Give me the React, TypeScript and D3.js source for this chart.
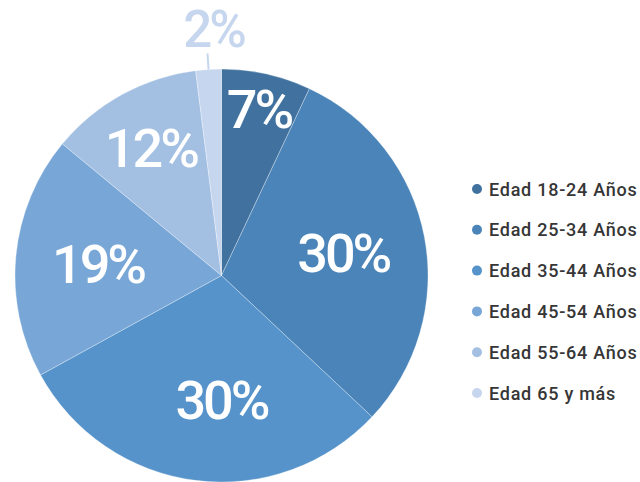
import React, { useEffect, useRef } from "react";
import * as d3 from "d3";

const categories = [
  "Edad 18-24 Años",
  "Edad 25-34 Años",
  "Edad 35-44 Años",
  "Edad 45-54 Años",
  "Edad 55-64 Años",
  "Edad 65 y más",
];
const values = [7, 30, 30, 19, 12, 2];
const colors = ["#41729f", "#4a84b8", "#5593ca", "#78a7d7", "#a3c0e3", "#c6d6ee"];

export default function App() {
  const ref = useRef<HTMLDivElement>(null);

  useEffect(() => {
    draw();
  }, []);

  const draw = () => {
    const root = d3.select(ref.current);
    root.select("svg").remove();

    const width = 640;
    const height = 482;
    const cx = 221.5;
    const cy = 275.5;
    const radius = 206.5;

    const svg = root
      .append("svg")
      .attr("width", width)
      .attr("height", height)
      .style("display", "block");

    const g = svg.append("g").attr("transform", `translate(${cx}, ${cy})`);

    const data = categories.map((c, i) => ({ name: c, value: values[i], color: colors[i] }));

    const pie = d3
      .pie<any>()
      .sort(null)
      .value((d) => d.value);
    const arcs = pie(data);

    const arc = d3.arc<any>().innerRadius(0).outerRadius(radius);

    g.selectAll("path.slice")
      .data(arcs)
      .enter()
      .append("path")
      .attr("class", "slice")
      .attr("d", arc)
      .attr("fill", (d) => d.data.color)
      .attr("stroke", "#ffffff")
      .attr("stroke-opacity", 0.5)
      .attr("stroke-width", 0.6);

    // inside labels: small slices get pushed towards the rim,
    // labels near the bottom are pulled towards the vertical axis
    const labelR = (v: number) => Math.max(124, radius - 5 * v);
    const inside = arcs.filter((d) => d.data.value >= 5);

    const labelFont = (sel: any, size: number) =>
      sel
        .style("font-family", "Roboto, sans-serif")
        .style("font-weight", 500)
        .style("font-size", size + "px")
        .style("letter-spacing", "-3px");

    g.selectAll("text.inlabel")
      .data(inside)
      .enter()
      .append("text")
      .attr("class", "inlabel")
      .attr("transform", (d) => {
        let a = (d.startAngle + d.endAngle) / 2;
        if (Math.abs(a - Math.PI) < 0.3) a = Math.PI;
        const r = labelR(d.data.value);
        return `translate(${r * Math.sin(a)}, ${-r * Math.cos(a)})`;
      })
      .attr("text-anchor", "middle")
      .attr("dy", "0.36em")
      .attr("fill", "#ffffff")
      .call(labelFont, 54)
      .text((d) => d.data.value + "%");

    // outside labels with a short leader line
    const outside = arcs.filter((d) => d.data.value < 5);
    outside.forEach((d) => {
      const a = (d.startAngle + d.endAngle) / 2;
      const x0 = radius * Math.sin(a);
      const y0 = -radius * Math.cos(a);
      const x1 = (radius + 16) * Math.sin(a);
      const y1 = -(radius + 16) * Math.cos(a);
      g.append("line")
        .attr("x1", x0)
        .attr("y1", y0)
        .attr("x2", x1)
        .attr("y2", y1)
        .attr("stroke", d.data.color)
        .attr("stroke-width", 2);
      g.append("text")
        .attr("x", x1 + 6)
        .attr("y", y1 - 6)
        .attr("text-anchor", "middle")
        .attr("fill", d.data.color)
        .call(labelFont, 51)
        .text(d.data.value + "%");
    });

    // legend
    const legend = svg
      .append("g")
      .attr("transform", "translate(477, 189)");

    const y = d3
      .scalePoint()
      .domain(categories)
      .range([0, 204]);

    const item = legend
      .selectAll("g.item")
      .data(data)
      .enter()
      .append("g")
      .attr("class", "item")
      .attr("transform", (d) => `translate(0, ${y(d.name)})`);

    item
      .append("circle")
      .attr("r", 5)
      .attr("fill", (d) => d.color);

    item
      .append("text")
      .attr("x", 12)
      .attr("y", 6.5)
      .attr("fill", "#363636")
      .style("font-family", "Roboto, sans-serif")
      .style("font-weight", 500)
      .style("font-size", "18px")
      .style("letter-spacing", "0.75px")
      .text((d) => d.name);
  };

  return <div ref={ref} id="pie_chart" style={{ position: "absolute", left: 0, top: 0 }}></div>;
}
